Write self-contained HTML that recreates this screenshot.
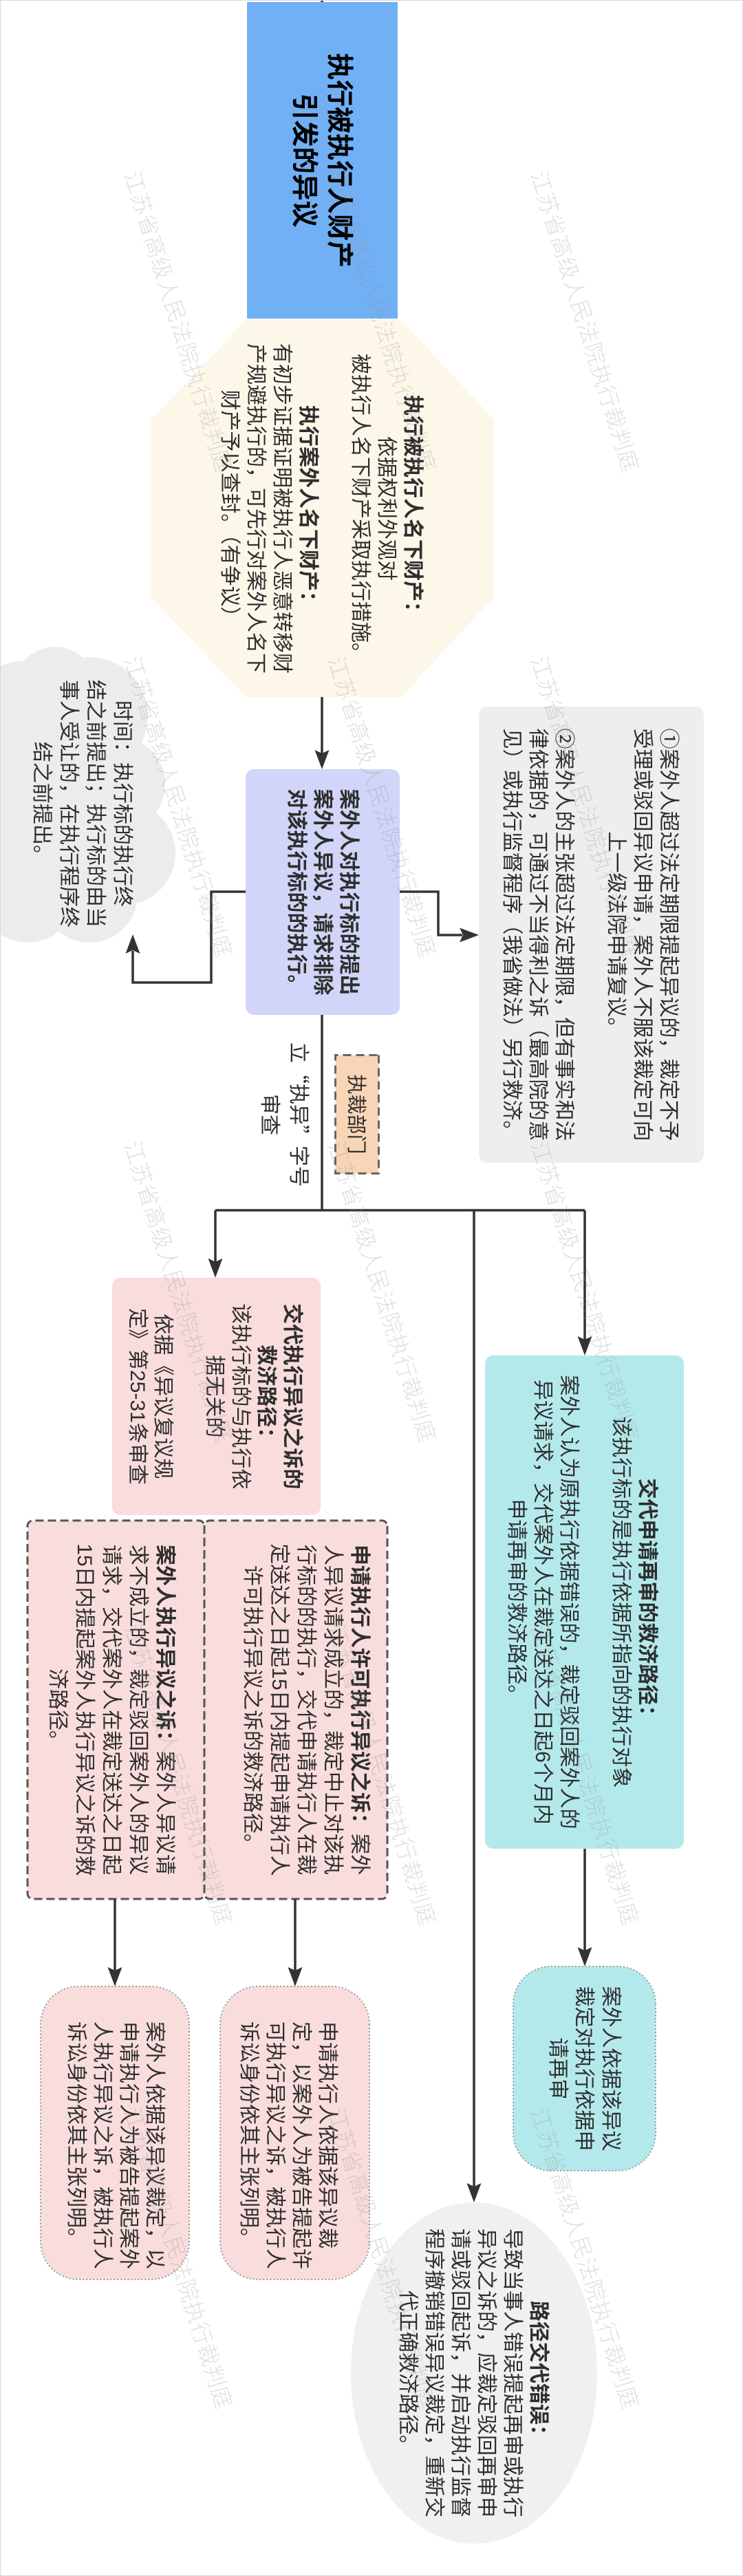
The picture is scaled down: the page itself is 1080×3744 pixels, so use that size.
<!DOCTYPE html>
<html><head><meta charset="utf-8">
<style>
html,body{margin:0;padding:0;}
body{width:1080px;height:3744px;overflow:hidden;background:#fff;position:relative;}
#c{position:absolute;left:0;top:0;width:3744px;height:1080px;transform-origin:0 0;transform:translate(1080px,0) rotate(90deg);font-family:"Liberation Sans","Noto Sans CJK SC",sans-serif;color:#2e2e2e;}
.t{position:absolute;text-align:center;white-space:nowrap;font-size:30px;line-height:38px;}
.b{font-weight:bold;}
.cj{font-family:"Noto Sans CJK SC","WenQuanYi Zen Hei",sans-serif;}
svg.layer{position:absolute;left:0;top:0;}
.wm{position:absolute;font-size:32px;line-height:32px;color:rgba(140,140,140,0.28);white-space:nowrap;transform-origin:0 50%;transform:rotate(-17.3deg);font-weight:300;letter-spacing:0.6px;}
#frame{position:absolute;left:0;top:0;width:1080px;height:3744px;box-sizing:border-box;border:1px solid #d8d8d8;}
</style></head>
<body>
<div id="c">
<svg class="layer" width="3744" height="1080" viewBox="0 0 3744 1080">
  <rect x="3" y="502" width="460" height="219" fill="#71b0f5"/>
  <polygon points="610,362 868,362 1013,497 1013,722 868,861 610,861 465,722 465,497" fill="#fcf7e8"/>
  <rect x="1118" y="499" width="357" height="224" rx="12" fill="#d1d5f7"/>
  <g fill="#ececec">
    <circle cx="1040" cy="950" r="85"/>
    <circle cx="1140" cy="910" r="70"/>
    <circle cx="1240" cy="900" r="75"/>
    <circle cx="1300" cy="950" r="70"/>
    <circle cx="1300" cy="1040" r="70"/>
    <circle cx="1060" cy="1040" r="100"/>
    <circle cx="1170" cy="1000" r="130"/>
    <circle cx="1000" cy="1000" r="60"/>
  </g>
  <rect x="1027" y="57" width="663" height="327" rx="12" fill="#eeeeee"/>
  <rect x="1533.5" y="529.5" width="172" height="63" fill="#f8d5b7" stroke="#666" stroke-width="3" stroke-dasharray="12 7"/>
  <rect x="1857" y="614" width="345" height="303" rx="12" fill="#f9dcdc"/>
  <rect x="2210" y="783" width="550" height="257" rx="8" fill="#f9dcdc" stroke="#555" stroke-width="3" stroke-dasharray="12 6"/>
  <rect x="2210" y="517" width="550" height="266" rx="8" fill="#f9dcdc" stroke="#555" stroke-width="3" stroke-dasharray="12 6"/>
  <rect x="2887" y="805" width="426" height="216" rx="55" fill="#f9dcdc" stroke="#9a9a9a" stroke-width="2" stroke-dasharray="2 3"/>
  <rect x="2887" y="543" width="426" height="217" rx="55" fill="#f9dcdc" stroke="#9a9a9a" stroke-width="2" stroke-dasharray="2 3"/>
  <rect x="1970" y="86" width="717" height="289" rx="12" fill="#b4e9ec"/>
  <rect x="2858" y="127" width="297" height="207" rx="55" fill="#b4e9ec" stroke="#9a9a9a" stroke-width="2" stroke-dasharray="2 3"/>
  <ellipse cx="3449" cy="391" rx="248" ry="179" fill="#f0f0f0"/>
</svg>

<div class="t b" style="left:3px;width:460px;top:562px;font-size:39px;line-height:51px;color:#000;">执行被执行人财产<br>引发的异议</div>

<div class="t" style="left:465px;width:548px;top:462px;"><span class="b">执行被执行人名下财产：</span><br>依据权利外观对<br>被执行人名下财产采取执行措施。<br><br><span class="b">执行案外人名下财产：</span><br>有初步证据证明被执行人恶意转移财<br>产规避执行的，可先行对案外人名下<br>财产予以查封。（有争议）</div>

<div class="t b" style="left:1118px;width:357px;top:555px;">案外人对执行标的提出<br>案外人异议，请求排除<br>对该执行标的的执行。</div>

<div class="t" style="left:968px;width:400px;top:883px;line-height:39px;">时间：执行标的执行终<br>结之前提出；执行标的由当<br>事人受让的，在执行程序终<br>结之前提出。</div>

<div class="t" style="left:1027px;width:663px;top:90px;">①案外人超过法定期限提起异议的，裁定不予<br>受理或驳回异议申请，案外人不服该裁定可向<br>上一级法院申请复议。<br><br>②案外人的主张超过法定期限，但有事实和法<br>律依据的，可通过不当得利之诉（最高院的意<br>见）或执行监督程序（我省做法）另行救济。</div>

<div class="t cj" style="left:1470px;width:300px;top:622px;line-height:42px;">立“执异”字号<br>审查</div>

<div class="t" style="left:1532px;width:175px;top:544px;font-size:29px;">执裁部门</div>

<div class="t" style="left:1857px;width:345px;top:637px;line-height:37.5px;"><span class="b">交代执行异议之诉的<br>救济路径：</span><br>该执行标的与执行依<br>据无关的<br><br>依据《异议复议规<br>定》第25-31条审查</div>

<div class="t" style="left:2210px;width:550px;top:821px;line-height:39px;"><span class="b">案外人执行异议之诉：</span>案外人异议请<br>求不成立的，裁定驳回案外人的异议<br>请求，交代案外人在裁定送达之日起<br>15日内提起案外人执行异议之诉的救<br>济路径。</div>

<div class="t" style="left:2210px;width:550px;top:538px;line-height:39px;"><span class="b">申请执行人许可执行异议之诉：</span>案外<br>人异议请求成立的，裁定中止对该执<br>行标的的执行，交代申请执行人在裁<br>定送达之日起15日内提起申请执行人<br>许可执行异议之诉的救济路径。</div>

<div class="t" style="left:2938px;top:837px;text-align:left;">案外人依据该异议裁定，以<br>申请执行人为被告提起案外<br>人执行异议之诉，被执行人<br>诉讼身份依其主张列明。</div>

<div class="t" style="left:2938px;top:586px;text-align:left;">申请执行人依据该异议裁<br>定，以案外人为被告提起许<br>可执行异议之诉，被执行人<br>诉讼身份依其主张列明。</div>

<div class="t" style="left:1970px;width:717px;top:121px;"><span class="b">交代申请再审的救济路径：</span><br>该执行标的是执行依据所指向的执行对象<br><br>案外人认为原执行依据错误的，裁定驳回案外人的<br>异议请求，交代案外人在裁定送达之日起6个月内<br>申请再审的救济路径。</div>

<div class="t" style="left:2858px;width:297px;top:174px;line-height:38.5px;">案外人依据该异议<br>裁定对执行依据申<br>请再审</div>

<div class="t" style="left:3201px;width:496px;top:279px;"><span class="b">路径交代错误：</span><br>导致当事人错误提起再审或执行<br>异议之诉的，应裁定驳回再审申<br>请或驳回起诉，并启动执行监督<br>程序撤销错误异议裁定，重新交<br>代正确救济路径。</div>

<svg class="layer" width="3744" height="1080" viewBox="0 0 3744 1080">
  <g fill="none" stroke="#333" stroke-width="3.5" stroke-linejoin="miter">
    <path d="M0 612 L3 612"/>
    <path d="M1013 612 L1096 612"/>
    <path d="M1296 723 L1296 773 L1428 773 L1428 887 L1382 887"/>
    <path d="M1296 499 L1296 443 L1359 443 L1359 408"/>
    <path d="M1475 612 L1759 612"/>
    <path d="M1759 230 L1759 767"/>
    <path d="M1759 767 L1834 767"/>
    <path d="M1759 391 L3178 391"/>
    <path d="M1759 230 L1947 230"/>
    <path d="M2760 913 L2864 913"/>
    <path d="M2760 651 L2864 651"/>
    <path d="M2687 230 L2835 230"/>
  </g>
  <g fill="#333">
    <polygon points="1118,612 1090,601.5 1095,612 1090,622.5"/>
    <polygon points="1358,887 1386,876.5 1381,887 1386,897.5"/>
    <polygon points="1359,384 1348.5,412 1359,407 1369.5,412"/>
    <polygon points="1857,767 1829,756.5 1834,767 1829,777.5"/>
    <polygon points="3201,391 3173,380.5 3178,391 3173,401.5"/>
    <polygon points="1970,230 1942,219.5 1947,230 1942,240.5"/>
    <polygon points="2887,913 2859,902.5 2864,913 2859,923.5"/>
    <polygon points="2887,651 2859,640.5 2864,651 2859,661.5"/>
    <polygon points="2858,230 2830,219.5 2835,230 2830,240.5"/>
  </g>
</svg>

<div class="wm" style="left:250px;top:873px;">江苏省高级人民法院执行裁判庭</div>
<div class="wm" style="left:250px;top:577px;">江苏省高级人民法院执行裁判庭</div>
<div class="wm" style="left:250px;top:282px;">江苏省高级人民法院执行裁判庭</div>
<div class="wm" style="left:955px;top:873px;">江苏省高级人民法院执行裁判庭</div>
<div class="wm" style="left:955px;top:577px;">江苏省高级人民法院执行裁判庭</div>
<div class="wm" style="left:955px;top:282px;">江苏省高级人民法院执行裁判庭</div>
<div class="wm" style="left:1660px;top:873px;">江苏省高级人民法院执行裁判庭</div>
<div class="wm" style="left:1660px;top:577px;">江苏省高级人民法院执行裁判庭</div>
<div class="wm" style="left:1660px;top:282px;">江苏省高级人民法院执行裁判庭</div>
<div class="wm" style="left:2362px;top:873px;">江苏省高级人民法院执行裁判庭</div>
<div class="wm" style="left:2362px;top:577px;">江苏省高级人民法院执行裁判庭</div>
<div class="wm" style="left:2362px;top:282px;">江苏省高级人民法院执行裁判庭</div>
<div class="wm" style="left:3065px;top:873px;">江苏省高级人民法院执行裁判庭</div>
<div class="wm" style="left:3065px;top:577px;">江苏省高级人民法院执行裁判庭</div>
<div class="wm" style="left:3065px;top:282px;">江苏省高级人民法院执行裁判庭</div>
</div>
<div id="frame"></div>
</body></html>
